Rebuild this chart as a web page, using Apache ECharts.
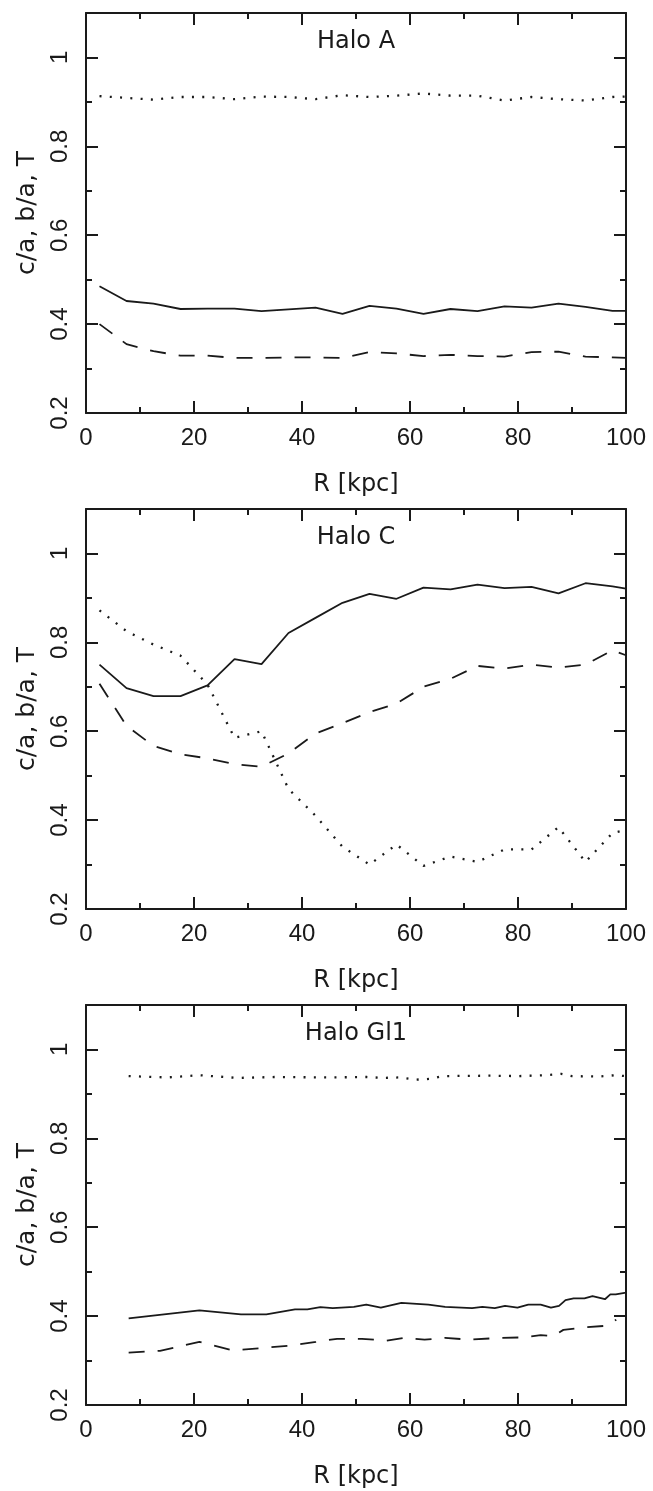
<!DOCTYPE html>
<html><head><meta charset="utf-8">
<script src="https://cdn.jsdelivr.net/npm/echarts@6/dist/echarts.min.js"></script>
<style>html,body{margin:0;padding:0;background:#fff}#c{width:653px;height:1491px}</style>
</head><body><div id="c"></div>
<script>
// ---- Data ----
const panelTitles = ['Halo A', 'Halo C', 'Halo Gl1'];
const xTickLabels = ['0', '20', '40', '60', '80', '100'];
const yTickLabels = ['0.2', '0.4', '0.6', '0.8', '1'];

const rA = [2.5, 7.5, 12.5, 17.5, 22.5, 27.5, 32.5, 37.5, 42.5, 47.5, 52.5, 57.5, 62.5, 67.5, 72.5, 77.5, 82.5, 87.5, 92.5, 97.5, 100];
const solidA  = [0.485, 0.452, 0.446, 0.434, 0.435, 0.435, 0.429, 0.433, 0.437, 0.423, 0.441, 0.435, 0.423, 0.434, 0.429, 0.440, 0.437, 0.446, 0.439, 0.430, 0.430];
const dashedA = [0.400, 0.355, 0.339, 0.329, 0.329, 0.324, 0.324, 0.325, 0.325, 0.324, 0.337, 0.334, 0.328, 0.331, 0.328, 0.327, 0.337, 0.338, 0.327, 0.325, 0.324];
const dottedA = [0.913, 0.909, 0.905, 0.911, 0.911, 0.906, 0.912, 0.911, 0.906, 0.915, 0.911, 0.914, 0.919, 0.914, 0.914, 0.903, 0.911, 0.906, 0.903, 0.911, 0.912];

const rC = [2.5, 7.5, 12.5, 17.5, 22.5, 27.5, 32.5, 37.5, 42.5, 47.5, 52.5, 57.5, 62.5, 67.5, 72.5, 77.5, 82.5, 87.5, 92.5, 97.5, 100];
const solidC  = [0.750, 0.697, 0.679, 0.679, 0.703, 0.762, 0.751, 0.821, 0.855, 0.889, 0.909, 0.898, 0.923, 0.919, 0.930, 0.922, 0.925, 0.910, 0.933, 0.926, 0.921];
const dashedC = [0.707, 0.612, 0.567, 0.548, 0.539, 0.526, 0.520, 0.550, 0.595, 0.618, 0.643, 0.662, 0.700, 0.718, 0.747, 0.741, 0.750, 0.743, 0.750, 0.782, 0.771];
const dottedC = [0.872, 0.825, 0.795, 0.770, 0.705, 0.585, 0.600, 0.470, 0.410, 0.340, 0.300, 0.345, 0.297, 0.318, 0.306, 0.334, 0.334, 0.384, 0.306, 0.371, 0.378];

const rGsolid = [7.9, 21.0, 28.7, 33.4, 38.7, 41.0, 43.4, 45.7, 49.6, 51.9, 54.6, 58.4, 63.4, 66.5, 71.5, 73.4, 75.7, 77.6, 79.9, 81.9, 84.2, 86.1, 87.6, 88.8, 90.3, 92.3, 93.8, 96.1, 97.1, 98.1, 100];
const solidG  = [0.395, 0.413, 0.404, 0.404, 0.415, 0.415, 0.420, 0.418, 0.421, 0.426, 0.419, 0.430, 0.426, 0.421, 0.418, 0.421, 0.418, 0.423, 0.419, 0.426, 0.426, 0.419, 0.423, 0.436, 0.440, 0.440, 0.445, 0.438, 0.449, 0.449, 0.453];
const rGdash = [7.9, 13.7, 21.0, 27.2, 33.4, 38.0, 42.6, 46.5, 51.1, 55.7, 58.8, 62.7, 66.5, 71.1, 76.5, 80.7, 84.2, 86.5, 88.4, 92.6, 96.1, 97.6, 98.2];
const dashedG = [0.318, 0.322, 0.342, 0.323, 0.329, 0.334, 0.342, 0.349, 0.349, 0.345, 0.351, 0.347, 0.351, 0.347, 0.351, 0.352, 0.357, 0.355, 0.369, 0.375, 0.378, 0.387, 0.392];
const rGdot = [7.9, 15.0, 21.0, 28.0, 35.0, 45.0, 52.0, 55.0, 58.0, 61.0, 64.0, 66.0, 75.0, 80.0, 85.0, 88.0, 90.0, 95.0, 98.0, 100];
const dottedG = [0.940, 0.937, 0.942, 0.936, 0.938, 0.937, 0.938, 0.936, 0.937, 0.932, 0.934, 0.940, 0.941, 0.940, 0.942, 0.945, 0.940, 0.939, 0.942, 0.940];

// ---- Build chart ----
const INK = '#1a1a1a';
const tickFont = 'Liberation Sans';
const nameFont = 'DejaVu Sans';
const gridTops = [13, 509, 1005];
const grids = gridTops.map(t => ({ left: 86, width: 540, top: t, height: 400 }));

function pair(xs, ys) { return xs.map((x, i) => [x, ys[i]]); }

const tickStyle = { color: INK, width: 2 };
const xAxes = [], yAxes = [];
grids.forEach((g, gi) => {
  const line = { show: true, onZero: false, lineStyle: { color: INK, width: 2 } };
  xAxes.push({ gridIndex: gi, type: 'value', position: 'bottom', min: 0, max: 100, interval: 20,
    axisLine: line, splitLine: { show: false },
    axisTick: { inside: true, length: 12, lineStyle: tickStyle },
    minorTick: { show: true, splitNumber: 2, length: 6, lineStyle: tickStyle },
    axisLabel: { margin: 13, color: INK, fontFamily: tickFont, fontSize: 24,
      formatter: v => xTickLabels[Math.round(v / 20)] },
    name: 'R [kpc]', nameLocation: 'middle', nameGap: 60,
    nameTextStyle: { color: INK, fontFamily: nameFont, fontSize: 24 } });
  xAxes.push({ gridIndex: gi, type: 'value', position: 'top', min: 0, max: 100, interval: 20,
    axisLine: line, splitLine: { show: false }, axisLabel: { show: false },
    axisTick: { inside: true, length: 12, lineStyle: tickStyle },
    minorTick: { show: true, splitNumber: 2, length: 6, lineStyle: tickStyle } });

  yAxes.push({ gridIndex: gi, type: 'value', position: 'left', min: 0.2, max: 1.1, interval: 0.2,
    axisLine: line, splitLine: { show: false },
    axisTick: { inside: true, length: 12, lineStyle: tickStyle },
    minorTick: { show: true, splitNumber: 2, length: 6, lineStyle: tickStyle },
    axisLabel: { margin: 14, rotate: 90, color: INK, fontFamily: tickFont, fontSize: 24,
      formatter: v => { const k = Math.round((v - 0.2) / 0.2); return (v > 1.05) ? '' : (yTickLabels[k] || ''); } },
    name: 'c/a, b/a, T', nameLocation: 'middle', nameGap: 46,
    nameTextStyle: { color: INK, fontFamily: nameFont, fontSize: 25 } });
  yAxes.push({ gridIndex: gi, type: 'value', position: 'right', min: 0.2, max: 1.1, interval: 0.2,
    axisLine: line, splitLine: { show: false }, axisLabel: { show: false },
    axisTick: { inside: true, length: 12, lineStyle: tickStyle },
    minorTick: { show: true, splitNumber: 2, length: 6, lineStyle: tickStyle } });
});

const styles = {
  solid:  { color: INK, width: 1.8, type: 'solid' },
  dashed: { color: INK, width: 1.8, type: [16, 13] },
  dotted: { color: INK, width: 2.3, type: [2, 8.3] }
};
function mk(gi, data, kind) {
  return { type: 'line', xAxisIndex: gi * 2, yAxisIndex: gi * 2, data: data,
    symbol: 'none', showSymbol: false, silent: true, lineStyle: styles[kind], z: 3 };
}
const series = [
  mk(0, pair(rA, solidA), 'solid'),
  mk(0, pair(rA, dashedA), 'dashed'),
  mk(0, pair(rA, dottedA), 'dotted'),
  mk(1, pair(rC, solidC), 'solid'),
  mk(1, pair(rC, dashedC), 'dashed'),
  mk(1, pair(rC, dottedC), 'dotted'),
  mk(2, pair(rGsolid, solidG), 'solid'),
  mk(2, pair(rGdash, dashedG), 'dashed'),
  mk(2, pair(rGdot, dottedG), 'dotted')
];

const graphic = gridTops.map((t, i) => ({
  type: 'text', x: 356, y: t + 17,
  style: { text: panelTitles[i], fill: INK, font: '24px "DejaVu Sans"', align: 'center', verticalAlign: 'top',
    textAlign: 'center', textVerticalAlign: 'top' }
}));

const chart = echarts.init(document.getElementById('c'), null, { renderer: 'canvas' });
chart.setOption({
  animation: false,
  backgroundColor: '#fff',
  grid: grids,
  xAxis: xAxes,
  yAxis: yAxes,
  series: series,
  graphic: graphic
});
</script>
</body></html>
